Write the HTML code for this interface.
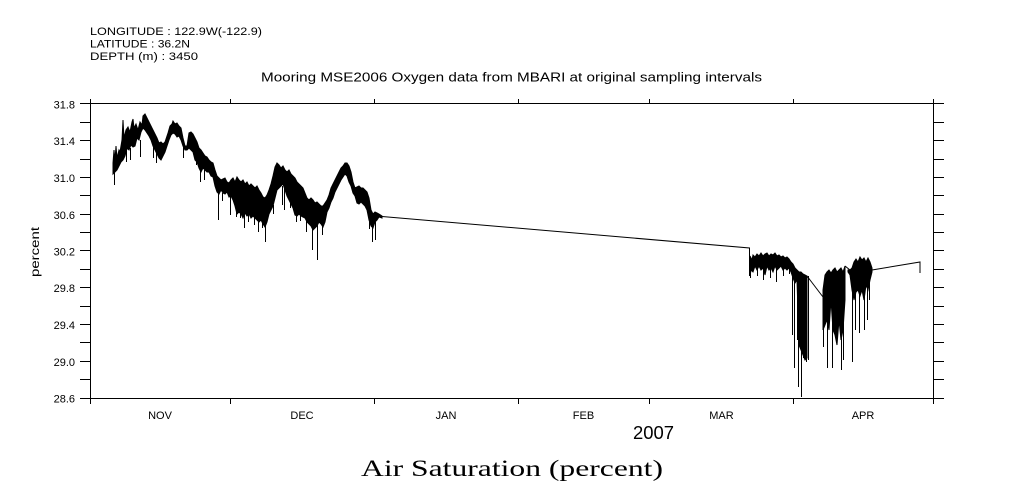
<!DOCTYPE html>
<html><head><meta charset="utf-8"><style>
html,body{margin:0;padding:0;background:#fff;}
svg{display:block;}
text{font-family:"Liberation Sans",sans-serif;fill:#000;}
</style></head><body>
<svg width="1009" height="504" viewBox="0 0 1009 504" xmlns="http://www.w3.org/2000/svg">
<rect width="1009" height="504" fill="#fff"/>
<!-- header -->
<text x="90" y="35" font-size="11" textLength="172" lengthAdjust="spacingAndGlyphs">LONGITUDE : 122.9W(-122.9)</text>
<text x="90" y="47.5" font-size="11" textLength="100" lengthAdjust="spacingAndGlyphs">LATITUDE : 36.2N</text>
<text x="90" y="60" font-size="11" textLength="108" lengthAdjust="spacingAndGlyphs">DEPTH (m) : 3450</text>
<text x="261" y="81.5" font-size="12.5" textLength="501" lengthAdjust="spacingAndGlyphs">Mooring MSE2006 Oxygen data from MBARI at original sampling intervals</text>

<g stroke="#000" stroke-width="1" fill="none" shape-rendering="crispEdges">
<!-- box -->
<path d="M90.5 103.5 H933.5 V398.5 H90.5 Z"/>
<!-- y ticks left and right -->
<path d="M80 103.5H90 M80 122.5H90 M80 140.5H90 M80 159.5H90 M80 177.5H90 M80 195.5H90 M80 214.5H90 M80 232.5H90 M80 250.5H90 M80 269.5H90 M80 287.5H90 M80 306.5H90 M80 324.5H90 M80 342.5H90 M80 361.5H90 M80 379.5H90 M80 398.5H90"/>
<path d="M933 103.5H944 M933 122.5H944 M933 140.5H944 M933 159.5H944 M933 177.5H944 M933 195.5H944 M933 214.5H944 M933 232.5H944 M933 250.5H944 M933 269.5H944 M933 287.5H944 M933 306.5H944 M933 324.5H944 M933 342.5H944 M933 361.5H944 M933 379.5H944 M933 398.5H944"/>
<!-- x ticks -->
<path d="M90.5 398V404 M230.5 398V404 M374.5 398V404 M518.5 398V404 M649.5 398V404 M793.5 398V404 M933.5 398V404"/>
<path d="M90.5 99V104 M230.5 99V104 M374.5 99V104 M518.5 99V104 M649.5 99V104 M793.5 99V104 M933.5 99V104"/>
</g>

<!-- y labels -->
<g font-size="11" text-anchor="end">
<text x="75" y="108.5">31.8</text>
<text x="75" y="145">31.4</text>
<text x="75" y="182">31.0</text>
<text x="75" y="219">30.6</text>
<text x="75" y="255.5">30.2</text>
<text x="75" y="292">29.8</text>
<text x="75" y="329">29.4</text>
<text x="75" y="366">29.0</text>
<text x="75" y="402.5">28.6</text>
</g>
<!-- x labels -->
<g font-size="11" text-anchor="middle">
<text x="160" y="419">NOV</text>
<text x="302" y="419">DEC</text>
<text x="446" y="419">JAN</text>
<text x="583.5" y="419">FEB</text>
<text x="721.5" y="419">MAR</text>
<text x="863" y="419">APR</text>
</g>
<text x="633" y="439" font-size="18" textLength="41" lengthAdjust="spacingAndGlyphs">2007</text>
<text transform="translate(39,252) rotate(-90)" font-size="12" text-anchor="middle" textLength="50" lengthAdjust="spacingAndGlyphs">percent</text>
<text x="361" y="476" font-size="23" textLength="302" lengthAdjust="spacingAndGlyphs" style="font-family:'Liberation Serif',serif;">Air Saturation (percent)</text>

<!-- data -->
<g stroke="#000" stroke-width="1" fill="#000" stroke-linejoin="miter">
<polygon points="113,163 114,150 115,160 116,146 117,158 119,150 120,152 122,140 123,120 124,138 126,130 128,127 130,132 132,122 133,119 134,128 136,124 138,130 140,122 142,125 143,116 145,114 147,118 149,122 151,126 153,130 155,134 157,138 159,143 161,142 163,144 165,142 167,136 168,133 170,126 172,124 173,121 175,124 177,123 179,126 181,128 183,138 185,146 187,146 189,133 191,132 193,134 195,138 197,142 199,148 201,150 203,153 205,156 207,157 209,160 211,162 213,163 215,170 217,176 219,178 221,180 223,179 225,178 227,182 229,183 231,180 233,178 235,182 237,177 239,180 241,182 243,180 245,184 247,182 249,186 251,184 253,186 255,188 257,186 259,190 261,193 263,197 265,198 267,195 269,190 271,184 273,176 275,167 277,163 279,165 281,168 283,166 285,170 287,172 289,170 291,174 293,176 295,178 297,182 299,184 301,186 303,188 305,193 307,198 309,200 311,198 313,200 315,203 317,202 319,204 321,206 323,206 325,203 327,200 329,195 331,188 333,184 335,180 337,176 339,172 341,168 343,166 345,163 347,163 349,166 351,172 353,182 355,188 357,187 359,186 361,188 363,188 365,190 367,192 369,198 371,210 373,214 375,212 377,213 379,214 382,216 382,218 379,217 377,220 375,222 373,228 371,226 369,220 367,210 365,206 363,204 361,202 359,204 357,203 355,196 353,193 351,186 349,182 347,176 345,174 343,177 341,180 339,184 337,188 335,192 333,198 331,202 329,208 327,212 325,222 323,227 321,224 319,222 317,226 315,228 313,230 311,226 309,224 307,222 305,218 303,217 301,216 299,214 297,216 295,215 293,208 291,204 289,200 287,196 285,190 283,184 281,186 279,188 277,190 275,198 273,206 271,210 269,214 267,222 265,227 263,224 261,220 259,222 257,220 255,218 253,216 251,218 249,214 247,216 245,213 243,218 241,214 239,212 237,214 235,206 233,200 231,196 229,197 227,192 225,194 223,193 221,190 219,194 217,192 215,186 213,177 211,176 209,172 207,172 205,170 203,168 201,172 199,168 197,162 195,160 193,152 191,150 189,148 187,150 185,150 183,146 181,140 179,136 177,137 175,134 173,133 171,135 169,140 167,146 165,152 163,156 161,160 159,158 157,154 155,150 153,146 151,140 149,136 147,133 145,130 143,128 141,132 139,140 137,138 135,146 133,147 131,145 129,150 127,148 125,156 123,160 121,162 119,166 117,170 115,172 113,174"/>
<polygon points="750,256 752,260 753,255 755,257 757,254 759,256 761,253 763,256 765,254 767,253 769,256 771,254 773,255 775,253 777,256 779,255 781,257 783,256 785,258 787,257 789,259 791,262 793,264 795,268 797,270 799,272 801,272 803,274 805,275 807,276 807,358 805,360 803,355 801,350 799,345 797,280 795,283 793,278 791,272 789,268 787,270 785,268 783,270 781,266 779,268 777,270 775,266 773,272 771,268 769,270 767,266 765,275 763,268 761,270 759,266 757,270 755,266 753,272 751,270 750,276"/>
<polygon points="823,290 825,275 827,272 829,270 831,273 833,270 835,268 837,272 839,270 841,268 843,272 845,266 845,300 843,330 841,340 839,320 837,345 835,335 833,330 831,300 829,330 827,320 825,325 823,330"/>
<polygon points="848,270 850,270 852,268 854,262 856,259 858,262 860,257 862,260 864,258 866,262 868,258 870,262 872,268 872,272 870,280 868,290 866,285 864,300 862,290 860,296 858,290 856,292 854,300 852,290 850,275 848,272"/>
</g>
<g stroke="#000" stroke-width="1" fill="none">
<polyline points="382,216.5 749.5,248 749.5,276"/>
<polyline points="807,276 823,297"/>
<polyline points="845,266 850,270"/>
<polyline points="872,270 920,262 920,273"/>
<path d="M114.5 163V185 M126.5 150V162 M130.5 148V160 M140.5 140V157 M153.5 146V158 M156.5 150V163 M183.5 146V158 M196.5 158V165 M200.5 165V182 M204.5 170V180 M218.5 190V220 M222.5 193V201 M230.5 196V215 M236.5 206V217 M240.5 210V218 M244.5 214V228 M248.5 214V222 M254.5 216V225 M258.5 220V232 M262.5 220V228 M265.5 225V242 M273.5 205V214 M282.5 186V205 M284.5 186V210 M290.5 200V208 M296.5 214V222 M300.5 215V221 M306.5 220V232 M312.5 224V250 M317.5 224V260 M322.5 225V235 M369.5 220V229 M372.5 226V242 M375.5 220V240"/>
<path d="M750.5 270V278 M757.5 266V276 M763.5 268V280 M770.5 268V278 M776.5 266V282 M783.5 268V276 M789.5 266V274 M792.5 270V335 M794.5 275V368 M797.5 278V340 M798.5 280V387 M801.5 300V397 M803.5 300V358 M806.5 300V362 M808.5 276V360"/>
<path d="M823.5 297V347 M827.5 280V368 M832.5 280V368 M836.5 280V340 M841.5 280V370 M843.5 280V360 M852.5 270V362 M855.5 265V330 M859.5 262V333 M864.5 260V330 M867.5 262V320 M869.5 262V300"/>
</g>
</svg>
</body></html>
